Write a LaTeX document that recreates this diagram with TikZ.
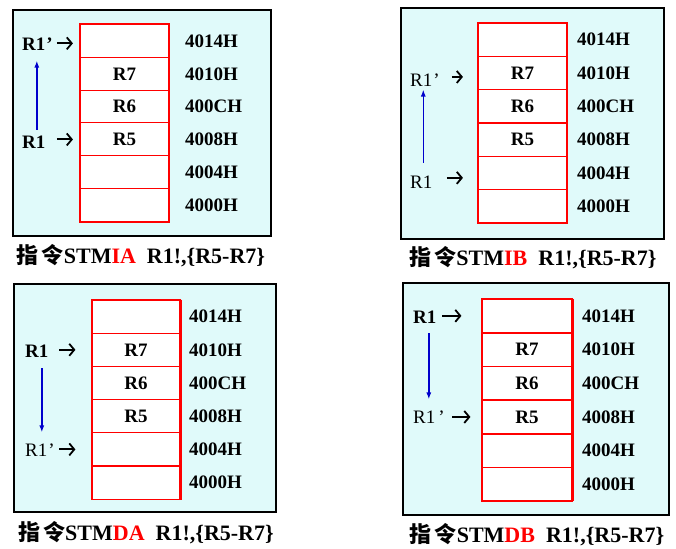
\documentclass[tikz,border=0pt]{standalone}
\usepackage{fontspec}
\setmainfont{Liberation Serif}
\newfontfamily\cjkfont{Noto Sans CJK SC}
\usepackage{tikz}
\usetikzlibrary{arrows.meta, calc}

\definecolor{panelbg}{HTML}{E0FAFA}
\definecolor{moveblue}{HTML}{0000CC}

\tikzset{
  panel/.style={draw=black, line width=1.6pt, fill=panelbg},
  cell/.style={draw=red, line width=1.1pt, fill=white, minimum width=88pt, minimum height=33pt,
    inner sep=0pt, font=\fontsize{19}{19}\selectfont\bfseries},
  addr/.style={anchor=west, inner sep=0pt, font=\fontsize{19}{19}\selectfont\bfseries},
  reglab/.style={anchor=west, inner sep=0pt, font=\fontsize{19}{19}\selectfont\bfseries},
  reglabthin/.style={anchor=west, inner sep=0pt, font=\fontsize{19}{19}\selectfont},
  ptr/.style={-{Straight Barb[length=5pt,width=12pt,line width=1.8pt]}, line width=2pt},
  move/.style={-{Latex[length=7pt,width=5pt]}, moveblue, line width=1.4pt},
  caption/.style={inner sep=0pt, font=\fontsize{22}{22}\selectfont\bfseries},
  stack/.style={draw=red, line width=2pt},
}

\begin{document}
\begin{tikzpicture}[x=1pt, y=-1pt]
\useasboundingbox (0,0) rectangle (676,548);

% STMIA
\draw[panel] (13,10) rectangle (271,236);
\begin{scope}[shift={(81,25)}]
\foreach \addr/\reg [count=\i] in {4014H/{},4010H/R7,400CH/R6,4008H/R5,4004H/{},4000H/{}} {
    \node[cell] (ia\i) at (43.5, {(\i-0.5)*32.7}) {\reg};
    \node[addr] at (104, {(\i-0.5)*32.7}) {\addr};
}
\end{scope}
\draw[stack] (ia1.north west) rectangle (ia6.south east);
\node[reglab] (ia-new) at (22,44) {R1\kern1pt’};
\node[reglab] (ia-old) at (22,142) {R1};
\draw[ptr, shorten >=7pt] ($(ia1.west)+(-23,2)$) -- ($(ia1.west)+(0,2)$);
\draw[ptr, shorten >=7pt] ($(ia4.west)+(-23,0)$) -- (ia4.west);
\draw[move, shorten <=6pt, shorten >=10pt] ([xshift=3pt]ia-old.north) -- ([xshift=3pt]ia-old.north |- ia-new.south);
\node[caption] (ia-cap) at (141,256) {{\cjkfont 指\kern3pt 令}STM\textcolor{red}{IA}\ \ R1!,\{R5-R7\}};

% STMIB
\draw[panel] (401,8) rectangle (664,239);
\begin{scope}[shift={(478,23)}]
\foreach \addr/\reg [count=\i] in {4014H/{},4010H/R7,400CH/R6,4008H/R5,4004H/{},4000H/{}} {
    \node[cell] (ib\i) at (44.5, {(\i-0.5)*33.3}) {\reg};
    \node[addr] at (99, {(\i-0.5)*33.3}) {\addr};
}
\end{scope}
\draw[stack] (ib1.north west) rectangle (ib6.south east);
\node[reglabthin] (ib-new) at (410,80) {R1\kern1pt’};
\node[reglabthin] (ib-old) at (410,182) {R1};
\draw[ptr, shorten >=15pt] ($(ib2.west)+(-26,4)$) -- ($(ib2.west)+(0,4)$);
\draw[ptr, shorten >=15pt] ($(ib5.west)+(-31,5)$) -- ($(ib5.west)+(0,5)$);
\draw[move, shorten <=13pt, shorten >=3pt] ([xshift=2pt]ib-old.north) -- ([xshift=2pt]ib-old.north |- ib-new.south);
\node[caption] (ib-cap) at (533,258) {{\cjkfont 指\kern3pt 令}STM\textcolor{red}{IB}\ \ R1!,\{R5-R7\}};

% STMDA
\draw[panel] (14,284) rectangle (276,512);
\begin{scope}[shift={(92,300)}]
\foreach \addr/\reg [count=\i] in {4014H/{},4010H/R7,400CH/R6,4008H/R5,4004H/{},4000H/{}} {
    \node[cell] (da\i) at (44, {(\i-0.5)*33.2}) {\reg};
    \node[addr] at (97, {(\i-0.5)*33.2}) {\addr};
}
\end{scope}
\draw[red, line width=1.2pt] (da1.north west) rectangle (da6.south east);
\draw[red, line width=3pt] (da1.north east) -- (da6.south east);
\node[reglab] (da-old) at (25,351) {R1};
\node[reglabthin] (da-new) at (25,450) {R1\kern1pt’};
\draw[ptr, shorten >=16pt] ($(da2.west)+(-32,0)$) -- (da2.west);
\draw[ptr, shorten >=16pt] ($(da5.west)+(-32,0)$) -- (da5.west);
\draw[move, shorten <=11pt, shorten >=11pt] ([xshift=5pt]da-old.south) -- ([xshift=5pt]da-old.south |- da-new.north);
\node[caption] (da-cap) at (146,533) {{\cjkfont 指\kern3pt 令}STM\textcolor{red}{DA}\ \ R1!,\{R5-R7\}};

% STMDB
\draw[panel] (403,283) rectangle (669,515);
\begin{scope}[shift={(482,299)}]
\foreach \addr/\reg [count=\i] in {4014H/{},4010H/R7,400CH/R6,4008H/R5,4004H/{},4000H/{}} {
    \node[cell, minimum width=90pt] (db\i) at (45, {(\i-0.5)*33.7}) {\reg};
    \node[addr] at (100, {(\i-0.5)*33.7}) {\addr};
}
\end{scope}
\draw[red, line width=1.2pt] (db1.north west) rectangle (db6.south east);
\draw[red, line width=3pt] (db1.north east) -- (db6.south east);
\node[reglab] (db-old) at (413,317) {R1};
\node[reglabthin] (db-new) at (413,417) {R1\kern3pt’};
\draw[ptr, shorten >=20pt] ($(db1.west)+(-39,0)$) -- (db1.west);
\draw[ptr, shorten >=11pt] ($(db4.west)+(-29,0)$) -- (db4.west);
\draw[move, shorten <=10pt, shorten >=11pt] ([xshift=4pt]db-old.south) -- ([xshift=4pt]db-old.south |- db-new.north);
\node[caption] (db-cap) at (537,535) {{\cjkfont 指\kern3pt 令}STM\textcolor{red}{DB}\ \ R1!,\{R5-R7\}};
\end{tikzpicture}
\end{document}
